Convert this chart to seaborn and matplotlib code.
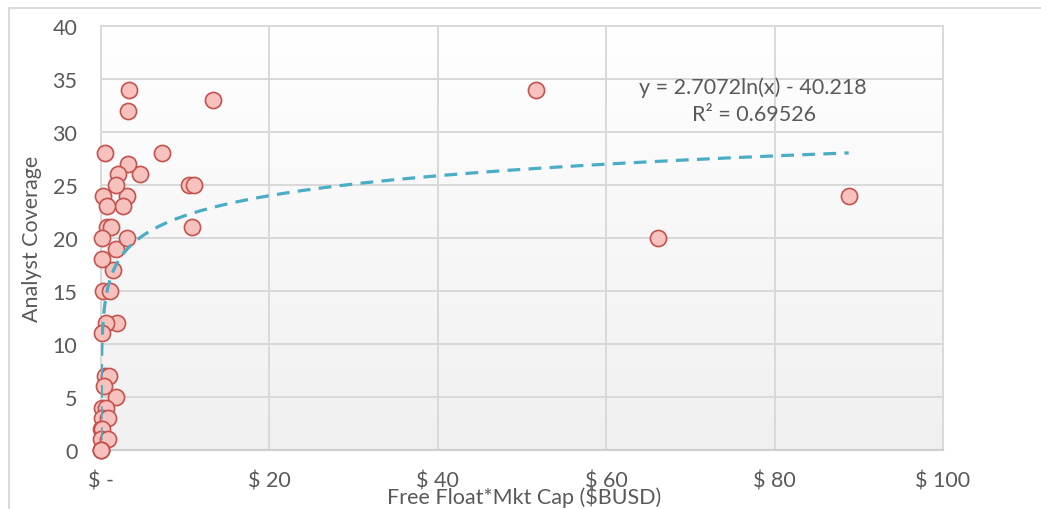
import numpy as np
import pandas as pd
import seaborn as sns
import matplotlib.pyplot as plt
from matplotlib.lines import Line2D

# Free float * market cap ($B) and analyst coverage
float_cap = [51.7, 88.8, 66.2, 13.3, 7.2, 10.5, 11.0, 10.8, 4.6, 3.35,
             3.2, 3.2, 3.1, 2.65, 2.05, 1.8, 1.8, 1.86, 1.78, 0.5,
             0.24, 0.75, 0.7, 1.2, 0.12, 3.1, 1.46, 0.12, 0.2, 1.07,
             0.6, 0.12, 0.5, 0.95, 0.36, 0.08, 0.6, 0.15, 0.87, 0.04,
             0.1, 0.04, 0.87, 0.004, 0.02, 0.05]
coverage = [34, 24, 20, 33, 28, 25, 25, 21, 26, 34,
            32, 27, 24, 23, 26, 25, 19, 12, 5, 28,
            24, 23, 21, 21, 20, 20, 17, 18, 15, 15,
            12, 11, 7, 7, 6, 4, 4, 3, 3, 2,
            2, 1, 1, 0, 0, 0]

# Excel log trendline (x in raw USD)
trend_a = 2.7072
trend_b = -40.218
trend_r2 = 0.69526
x_ticks = [0, 20, 40, 60, 80, 100]
x_tick_labels = ["$ -", "$ 20", "$ 40", "$ 60", "$ 80", "$ 100"]
y_ticks = [0, 5, 10, 15, 20, 25, 30, 35, 40]

df = pd.DataFrame({"cap": float_cap, "cov": coverage})
xs = np.linspace(min(float_cap), max(float_cap), 2000)
trend = pd.DataFrame({"cap": xs, "cov": trend_a * np.log(xs * 1e9) + trend_b})

sns.set_style("white")
plt.rcParams["font.family"] = ["Lato", "DejaVu Sans"]
text_color = "#595959"
grid_color = "#D9D9D9"
fs = 15.5

fig = plt.figure(figsize=(10.41, 5.10), dpi=100)
ax = fig.add_axes([101 / 1041, 1 - 451 / 510, (943 - 101) / 1041, (451 - 27) / 510])

# gradient plot-area fill
grad = np.linspace(1.0, 0.0, 256).reshape(-1, 1)
ax.imshow(grad, cmap=plt.matplotlib.colors.LinearSegmentedColormap.from_list(
    "bg", ["#F0F0F0", "#FFFFFF"]), extent=[0, 1, 0, 1], transform=ax.transAxes,
    aspect="auto", zorder=0)

sns.scatterplot(data=df, x="cap", y="cov", ax=ax, s=135, color="#F7C1BD",
                edgecolor="#C4524E", linewidth=1.2, zorder=3, clip_on=False)
sns.lineplot(data=trend, x="cap", y="cov", ax=ax, color="#4BACC6", linewidth=2.3,
             zorder=4)
ax.lines[-1].set_dashes([4, 2.6])

ax.set_xlim(0, 100)
ax.set_ylim(0, 40)
ax.set_xticks(x_ticks)
ax.set_xticklabels(x_tick_labels)
ax.set_yticks(y_ticks)
ax.grid(True, color=grid_color, linewidth=1.4, zorder=1)
ax.set_axisbelow(True)
for side in ["top", "right", "left"]:
    ax.spines[side].set_color(grid_color)
    ax.spines[side].set_linewidth(1.4)
ax.spines["bottom"].set_color("#D0D0D0")
ax.spines["bottom"].set_linewidth(1.6)
ax.tick_params(axis="x", length=0, pad=15, labelsize=fs, labelcolor=text_color)
ax.tick_params(axis="y", length=0, pad=17, labelsize=fs, labelcolor=text_color)

ax.set_xlabel("Free Float*Mkt Cap ($BUSD)", fontsize=fs, color=text_color, va="center")
ax.xaxis.set_label_coords(0.502, -0.109)
ax.set_ylabel("Analyst Coverage", fontsize=fs, color=text_color, va="center")
ax.yaxis.set_label_coords(-0.082, 0.5)

fig.text(753 / 1041, 1 - 88 / 510, "y = 2.7072ln(x) - 40.218", ha="center", va="center",
         fontsize=fs, color=text_color)
fig.text(754 / 1041, 1 - 115 / 510, "R² = 0.69526", ha="center", va="center",
         fontsize=fs, color=text_color)

# outer chart frame
fig.add_artist(Line2D([9 / 1041, 1], [1 - 9 / 510, 1 - 9 / 510], color=grid_color,
                      linewidth=1.4, transform=fig.transFigure))
fig.add_artist(Line2D([9 / 1041, 9 / 1041], [0, 1 - 9 / 510], color=grid_color,
                      linewidth=1.4, transform=fig.transFigure))

fig.savefig("out.png", dpi=100)
